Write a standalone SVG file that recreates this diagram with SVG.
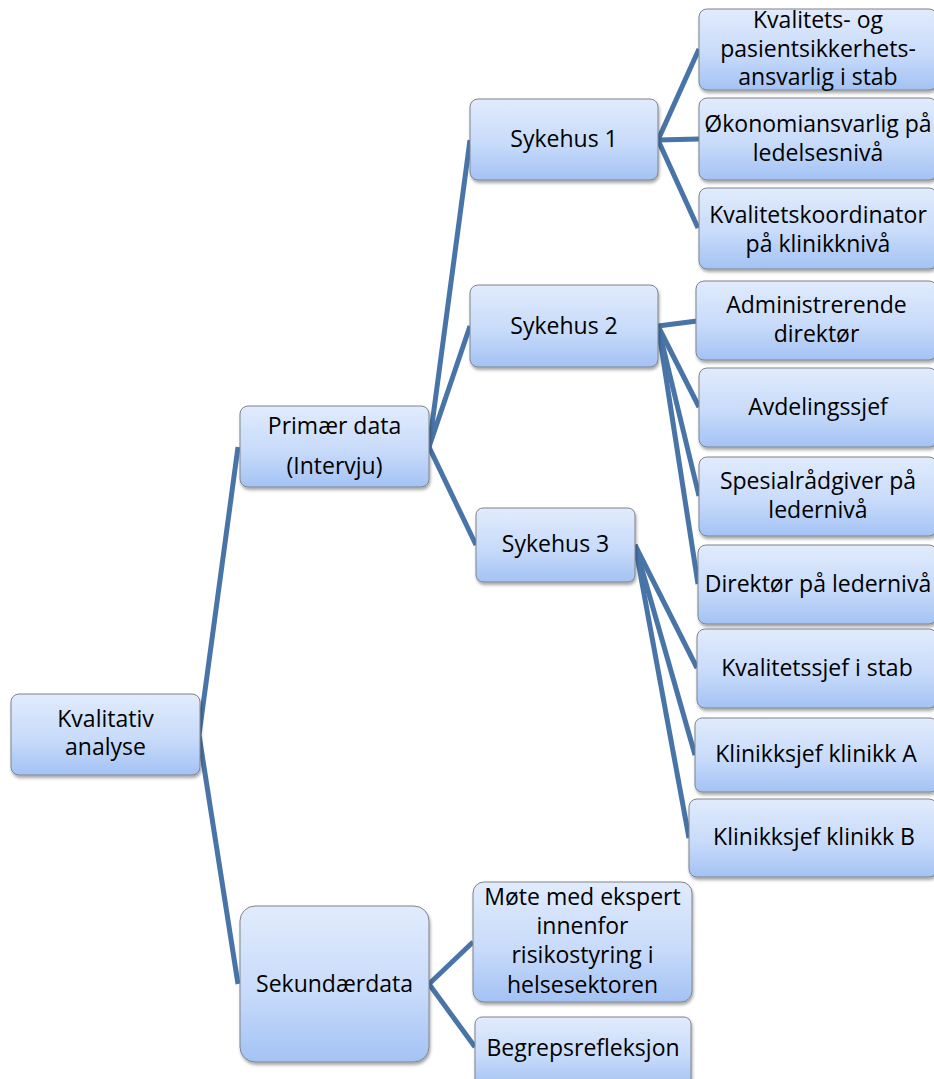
<svg xmlns="http://www.w3.org/2000/svg" width="934" height="1079" viewBox="0 0 934 1079">
  <defs>
    <linearGradient id="boxFill" x1="0" y1="0" x2="0" y2="1">
      <stop offset="0" stop-color="#e1ebfc"/>
      <stop offset="0.55" stop-color="#c8dbfa"/>
      <stop offset="1" stop-color="#a3c2f4"/>
    </linearGradient>
    <filter id="shadow" x="-10%" y="-10%" width="125%" height="130%">
      <feDropShadow dx="1" dy="2.5" stdDeviation="1.8" flood-color="#000" flood-opacity="0.35"/>
    </filter>
  </defs>
  <style>
    .box { fill: url(#boxFill); stroke: #7d848c; stroke-width: 1; filter: url(#shadow); }
    .lbl { font-family: "Open Sans", "Liberation Sans", Arial, sans-serif; font-size: 23px; fill: #000; text-anchor: middle; }
    .link { stroke: #4874a7; stroke-width: 5; fill: none; stroke-linecap: butt; }
  </style>

  <rect width="934" height="1079" fill="#ffffff"/>

  <!-- connectors -->
  <g id="connectors">
    <polyline class="link" points="238,447 199,735 238,984"/>
    <polyline class="link" points="470,140 429,447 470,326"/>
    <line class="link" x1="429" y1="447" x2="476" y2="545"/>
    <line class="link" x1="658" y1="140" x2="699" y2="49"/>
    <line class="link" x1="658" y1="140" x2="699" y2="139"/>
    <line class="link" x1="658" y1="140" x2="698" y2="228"/>
    <line class="link" x1="658" y1="326" x2="697" y2="321"/>
    <line class="link" x1="658" y1="326" x2="699" y2="407"/>
    <line class="link" x1="658" y1="326" x2="699" y2="496"/>
    <line class="link" x1="658" y1="326" x2="698" y2="584"/>
    <line class="link" x1="635" y1="545" x2="697" y2="668"/>
    <line class="link" x1="635" y1="545" x2="695" y2="755"/>
    <line class="link" x1="635" y1="545" x2="689" y2="838"/>
    <line class="link" x1="429" y1="984" x2="473" y2="942"/>
    <line class="link" x1="429" y1="984" x2="475" y2="1047"/>
  </g>

  <!-- root -->
  <g id="kvalitativ-analyse">
    <rect class="box" x="11" y="694" width="189" height="81" rx="8"/>
    <text class="lbl" x="105.5" y="727">Kvalitativ</text>
    <text class="lbl" x="105.5" y="755">analyse</text>
  </g>

  <!-- level 1 -->
  <g id="primaer-data">
    <rect class="box" x="240" y="406" width="189" height="81" rx="8"/>
    <text class="lbl" x="334.5" y="434">Primær data</text>
    <text class="lbl" x="334.5" y="474">(Intervju)</text>
  </g>
  <g id="sekundaerdata">
    <rect class="box" x="240" y="906" width="189" height="156" rx="15"/>
    <text class="lbl" x="334.5" y="992">Sekundærdata</text>
  </g>

  <!-- level 2 -->
  <g id="sykehus-1">
    <rect class="box" x="470" y="99" width="188" height="81" rx="8"/>
    <text class="lbl" x="564" y="147">Sykehus 1</text>
  </g>
  <g id="sykehus-2">
    <rect class="box" x="470" y="285" width="188" height="82" rx="8"/>
    <text class="lbl" x="564" y="334">Sykehus 2</text>
  </g>
  <g id="sykehus-3">
    <rect class="box" x="476" y="508" width="159" height="74" rx="7"/>
    <text class="lbl" x="555.5" y="552">Sykehus 3</text>
  </g>
  <g id="mote-med-ekspert">
    <rect class="box" x="473" y="882" width="219" height="120" rx="11"/>
    <text class="lbl" x="582.5" y="905">Møte med ekspert</text>
    <text class="lbl" x="582.5" y="934">innenfor</text>
    <text class="lbl" x="582.5" y="963">risikostyring i</text>
    <text class="lbl" x="582.5" y="993">helsesektoren</text>
  </g>
  <g id="begrepsrefleksjon">
    <rect class="box" x="475" y="1017" width="216" height="70" rx="7"/>
    <text class="lbl" x="583" y="1056">Begrepsrefleksjon</text>
  </g>

  <!-- level 3: Sykehus 1 -->
  <g id="kvalitets-og-pasientsikkerhetsansvarlig">
    <rect class="box" x="699" y="9" width="238" height="81" rx="8"/>
    <text class="lbl" x="818" y="28">Kvalitets- og</text>
    <text class="lbl" x="818" y="57">pasientsikkerhets-</text>
    <text class="lbl" x="818" y="85">ansvarlig i stab</text>
  </g>
  <g id="okonomiansvarlig">
    <rect class="box" x="699" y="98" width="238" height="82" rx="8"/>
    <text class="lbl" x="818" y="132">Økonomiansvarlig på</text>
    <text class="lbl" x="818" y="161">ledelsesnivå</text>
  </g>
  <g id="kvalitetskoordinator">
    <rect class="box" x="699" y="188" width="238" height="81" rx="8"/>
    <text class="lbl" x="818" y="223">Kvalitetskoordinator</text>
    <text class="lbl" x="818" y="252">på klinikknivå</text>
  </g>

  <!-- level 3: Sykehus 2 -->
  <g id="administrerende-direktor">
    <rect class="box" x="696" y="281" width="241" height="79" rx="8"/>
    <text class="lbl" x="816.5" y="313">Administrerende</text>
    <text class="lbl" x="816.5" y="342">direktør</text>
  </g>
  <g id="avdelingssjef">
    <rect class="box" x="699" y="368" width="238" height="79" rx="8"/>
    <text class="lbl" x="818" y="415">Avdelingssjef</text>
  </g>
  <g id="spesialradgiver">
    <rect class="box" x="699" y="457" width="238" height="79" rx="8"/>
    <text class="lbl" x="818" y="489">Spesialrådgiver på</text>
    <text class="lbl" x="818" y="518">ledernivå</text>
  </g>
  <g id="direktor-ledernivaa">
    <rect class="box" x="698" y="545" width="239" height="79" rx="8"/>
    <text class="lbl" x="818" y="592">Direktør på ledernivå</text>
  </g>

  <!-- level 3: Sykehus 3 -->
  <g id="kvalitetssjef">
    <rect class="box" x="697" y="629" width="240" height="79" rx="8"/>
    <text class="lbl" x="817" y="676">Kvalitetssjef i stab</text>
  </g>
  <g id="klinikksjef-a">
    <rect class="box" x="695" y="718" width="242" height="74" rx="7"/>
    <text class="lbl" x="816" y="762">Klinikksjef klinikk A</text>
  </g>
  <g id="klinikksjef-b">
    <rect class="box" x="689" y="799" width="248" height="78" rx="8"/>
    <text class="lbl" x="814" y="845">Klinikksjef klinikk B</text>
  </g>
</svg>
